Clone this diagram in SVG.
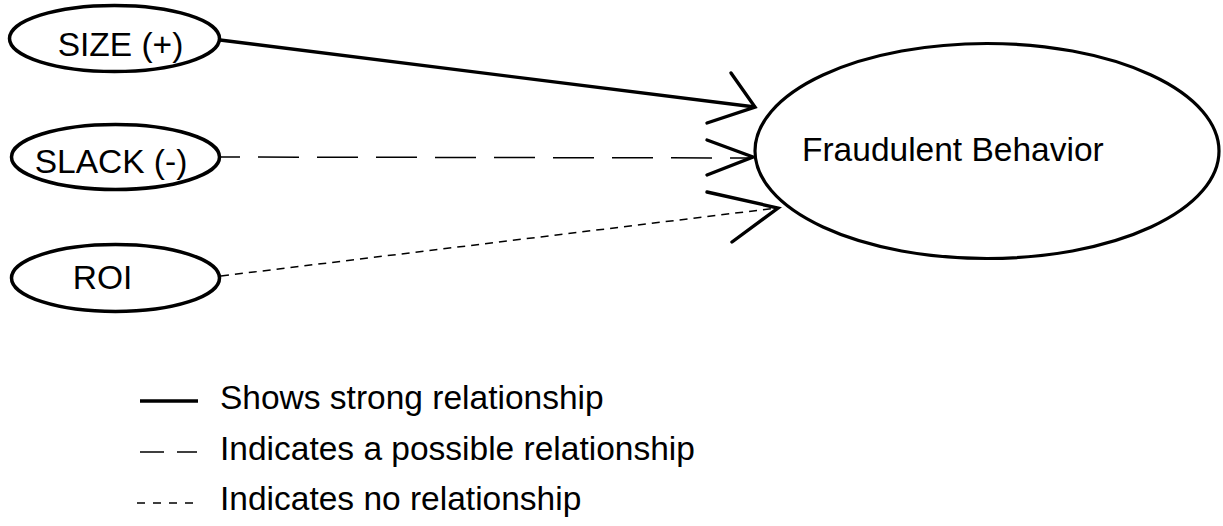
<svg xmlns="http://www.w3.org/2000/svg" width="1223" height="526" viewBox="0 0 1223 526">
<style>
.node{fill:#fff;stroke:#000;stroke-width:3.5}
.t{font-family:"Liberation Sans",Arial,sans-serif;font-size:33.5px;fill:#000}
.head{fill:none;stroke:#000;stroke-width:3.4;stroke-linecap:round;stroke-linejoin:miter}
.strong{stroke:#000;stroke-width:3.3;fill:none}
.possible{stroke:#000;stroke-width:1.5;fill:none;stroke-dasharray:41 18}
.none{stroke:#000;stroke-width:1.5;fill:none;stroke-dasharray:8 6}
</style>
<rect width="1223" height="526" fill="#fff"/>
<g id="connectors">
<line class="strong" x1="220" y1="40" x2="755" y2="107"/>
<polyline class="head" points="731,73 755,107 707,123"/>
<line class="possible" x1="221" y1="157" x2="752" y2="158" stroke-dashoffset="22"/>
<polyline class="head" points="707,140 753,157 707,175"/>
<line class="none" x1="221" y1="276" x2="777" y2="208"/>
<polyline class="head" points="707,192 778,208 732,242"/>
</g>
<g id="node-size">
<ellipse class="node" cx="114.5" cy="38.5" rx="105" ry="33"/>
<text class="t" x="120.5" y="56" text-anchor="middle">SIZE (+)</text>
</g>
<g id="node-slack">
<ellipse class="node" cx="115.5" cy="157" rx="104" ry="32.5"/>
<text class="t" x="111" y="173" text-anchor="middle">SLACK (-)</text>
</g>
<g id="node-roi">
<ellipse class="node" cx="115.5" cy="278" rx="104" ry="33.5"/>
<text class="t" x="102.5" y="289" text-anchor="middle">ROI</text>
</g>
<g id="node-fraud">
<ellipse class="node" cx="987" cy="151" rx="232" ry="107.5" style="stroke-width:3.2"/>
<text class="t" x="802" y="161">Fraudulent Behavior</text>
</g>
<g id="legend">
<line class="strong" x1="140" y1="401" x2="198" y2="401"/>
<text class="t" x="220" y="409">Shows strong relationship</text>
<line x1="140" y1="452" x2="197" y2="452" stroke="#000" stroke-width="1.5" stroke-dasharray="24 13"/>
<text class="t" x="220" y="460">Indicates a possible relationship</text>
<line x1="137" y1="503" x2="193" y2="503" stroke="#000" stroke-width="1.5" stroke-dasharray="8 8"/>
<text class="t" x="220" y="510">Indicates no relationship</text>
</g>
</svg>
